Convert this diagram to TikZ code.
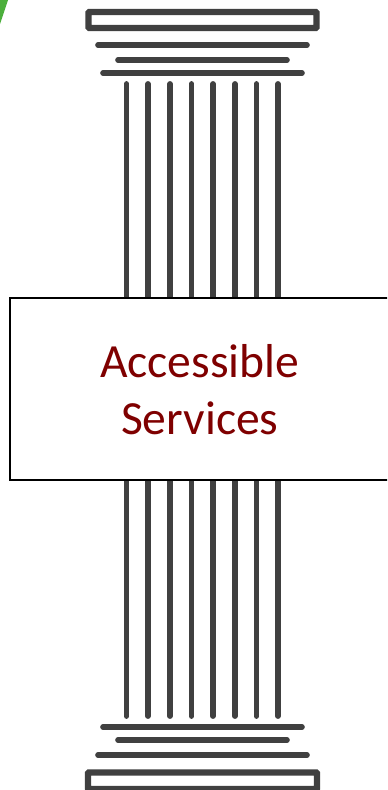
\documentclass[tikz,border=0pt]{standalone}
\usepackage{fontspec}
\setmainfont{Carlito}
\usepackage{xcolor}
\definecolor{clStone}{HTML}{404040}
\definecolor{clLabel}{HTML}{7F0000}
\definecolor{clLeaf}{HTML}{4CAF3C}
\tikzset{
  slab/.style={draw=clStone, line width=4.2pt, line cap=round},
  plinth/.style={draw=clStone, line width=4.8pt, fill=white, rounded corners=0.6pt},
  flute/.style={draw=clStone, line width=4.4pt, line cap=round},
  banner/.style={rectangle, draw=black, line width=1.6pt, fill=white, align=center,
                 text=clLabel, minimum width=284.5pt, minimum height=136.5pt,
                 text depth=-3pt, font=\fontsize{35.7}{42.75}\selectfont},
}
\begin{document}
\begin{tikzpicture}[x=0.75pt, y=-0.75pt]
  \useasboundingbox (0,0) rectangle (387,790);
  \clip (0,0) rectangle (387,790);
  \fill[clLeaf] (0,0) -- (8,0) -- (0,24) -- cycle;
  % top of the column
  \draw[plinth] (88.5,12) rectangle (316.5,28);
  \draw[slab] (98,45) -- (307,45);
  \draw[slab] (118,60) -- (287,60);
  \draw[slab] (103,73) -- (302,73);
  % bottom of the column
  \draw[slab] (103,727) -- (302,727);
  \draw[slab] (118,740) -- (287,740);
  \draw[slab] (98,755) -- (307,755);
  \draw[plinth] (88,772.5) rectangle (317,789);
  \foreach \x in {126.5,148,170,191.5,213,235,256.5,278} {
    \draw[flute] (\x,84) -- (\x,716);
  }
  \node[banner, anchor=north west] (services) at (9,297) {Accessible\\Services};
\end{tikzpicture}
\end{document}
